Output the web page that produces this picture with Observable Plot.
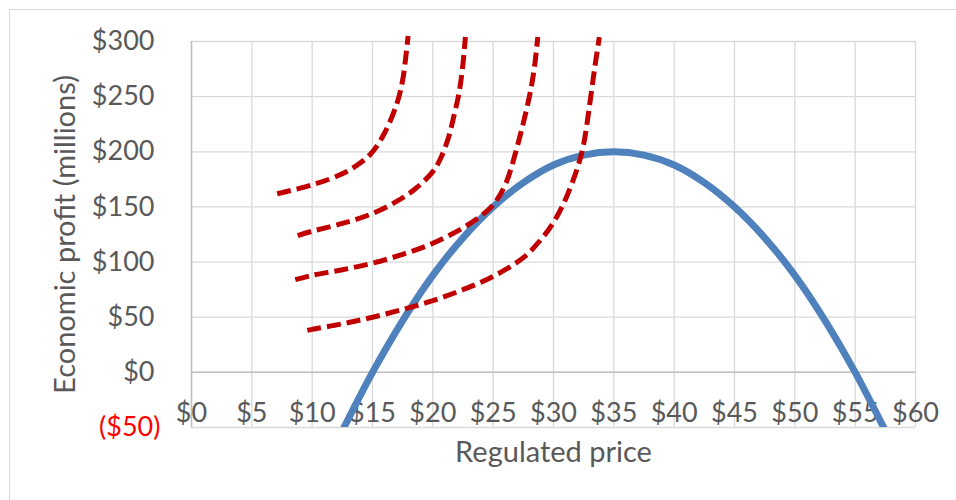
<!DOCTYPE html>
<html>
<head>
<meta charset="utf-8">
<script src="https://cdn.jsdelivr.net/npm/d3@7"></script>
<script src="https://cdn.jsdelivr.net/npm/@observablehq/plot@0.6"></script>
<style>
  body { margin: 0; background: #fff; }
  #wrap { position: relative; width: 956px; height: 500px; overflow: hidden; }
  #edge { position: absolute; left: 9px; top: 9px; width: 1000px; height: 600px;
          border-left: 1px solid #d9d9d9; border-top: 1px solid #d9d9d9;
          pointer-events: none; z-index: 2; }
</style>
</head>
<body>
<div id="wrap"><div id="edge"></div></div>
<script>
// Tick values
const priceTicks = [0, 5, 10, 15, 20, 25, 30, 35, 40, 45, 50, 55, 60];
const profitTicks = [0, 50, 100, 150, 200, 250, 300];
const lossTick = [-50];

// Economic profit (millions) at each regulated price: [price, profit]
const profitCurve = [
  [12.5, -53], [15, 0], [17.5, 47], [20, 88], [22.5, 122], [25, 150],
  [27.5, 172], [30, 188], [32.5, 197], [35, 200], [37.5, 197], [40, 188],
  [42.5, 172], [45, 150], [47.5, 122], [50, 88], [52.5, 47], [55, 0], [57.5, -53]
];

// Iso-utility curves of the regulator: [price, profit]
const iso1 = [
  [7.1, 162], [10, 170], [12.5, 180], [14, 190], [15, 200], [16, 217],
  [17, 243], [17.5, 265], [17.8, 290], [17.95, 305]
];
const iso2 = [
  [8.8, 124], [10, 128], [12.5, 135], [15, 144], [17, 155], [18.5, 166],
  [20, 182], [20.6, 193], [21.3, 213], [21.8, 235], [22.15, 252], [22.45, 275], [22.7, 304]
];
const iso3 = [
  [8.6, 84], [10, 88], [12.5, 93], [15, 99], [17.5, 107], [20, 117],
  [22.5, 131], [24, 142], [25, 152], [26, 170], [27, 205], [28, 250], [28.4, 275], [28.7, 304]
];
const iso4 = [
  [9.6, 38], [10, 39], [12.5, 44], [15, 50], [17.5, 57], [20, 65],
  [22.5, 75], [25, 87], [27.5, 104], [29, 121], [30, 136], [31, 157],
  [32, 186], [32.5, 207], [33, 243], [33.4, 275], [33.8, 304]
];
const isoCurves = [iso1, iso2, iso3, iso4];

const ink = "#595959";

const chart = Plot.plot({
  width: 956,
  height: 500,
  marginLeft: 191,
  marginRight: 41,
  marginTop: 41,
  marginBottom: 73,
  style: { fontFamily: "Lato, 'Open Sans', sans-serif", fontSize: "27px", color: ink, background: "transparent" },
  x: { domain: [0, 60] },
  y: { domain: [-50, 300] },
  marks: [
    Plot.gridX(priceTicks, { stroke: "#d9d9d9", strokeOpacity: 1, strokeWidth: 1.3 }),
    Plot.gridY([...lossTick, ...profitTicks], { stroke: "#d9d9d9", strokeOpacity: 1, strokeWidth: 1.3 }),
    Plot.ruleY([0], { stroke: "#bfbfbf", strokeWidth: 1.5 }),
    Plot.ruleX([0], { stroke: "#bfbfbf", strokeWidth: 1.5 }),
    Plot.axisX(priceTicks, {
      anchor: "bottom", tickSize: 0, tickPadding: -14, lineAnchor: "middle",
      tickFormat: d => "$" + d, fill: ink, label: null
    }),
    Plot.axisY(profitTicks, {
      anchor: "left", tickSize: 0, tickPadding: 37,
      tickFormat: d => "$" + d, fill: ink, label: null
    }),
    Plot.text(lossTick, {
      y: d => d, frameAnchor: "left", dx: -31, textAnchor: "end", lineAnchor: "middle",
      text: d => "($" + Math.abs(d) + ")", fill: "#ff0000"
    }),
    Plot.text(["Economic profit (millions)"], {
      text: d => d, frameAnchor: "left", dx: -126, rotate: -90,
      textAnchor: "middle", lineAnchor: "middle", fill: ink, fontSize: 29
    }),
    Plot.text(["Regulated price"], {
      text: d => d, frameAnchor: "bottom", dy: 25,
      textAnchor: "middle", lineAnchor: "middle", fill: ink, fontSize: 29
    }),
    Plot.line(profitCurve, {
      x: d => d[0], y: d => d[1], stroke: "#4f81bd", strokeWidth: 7,
      curve: "catmull-rom", clip: true
    }),
    ...isoCurves.map(c => Plot.line(c, {
      x: d => d[0], y: d => d[1], stroke: "#c00000", strokeWidth: 5,
      strokeDasharray: "14,6", strokeLinecap: "butt", strokeLinejoin: "miter",
      curve: "catmull-rom"
    }))
  ]
});

document.getElementById("wrap").appendChild(chart);
</script>
</body>
</html>
